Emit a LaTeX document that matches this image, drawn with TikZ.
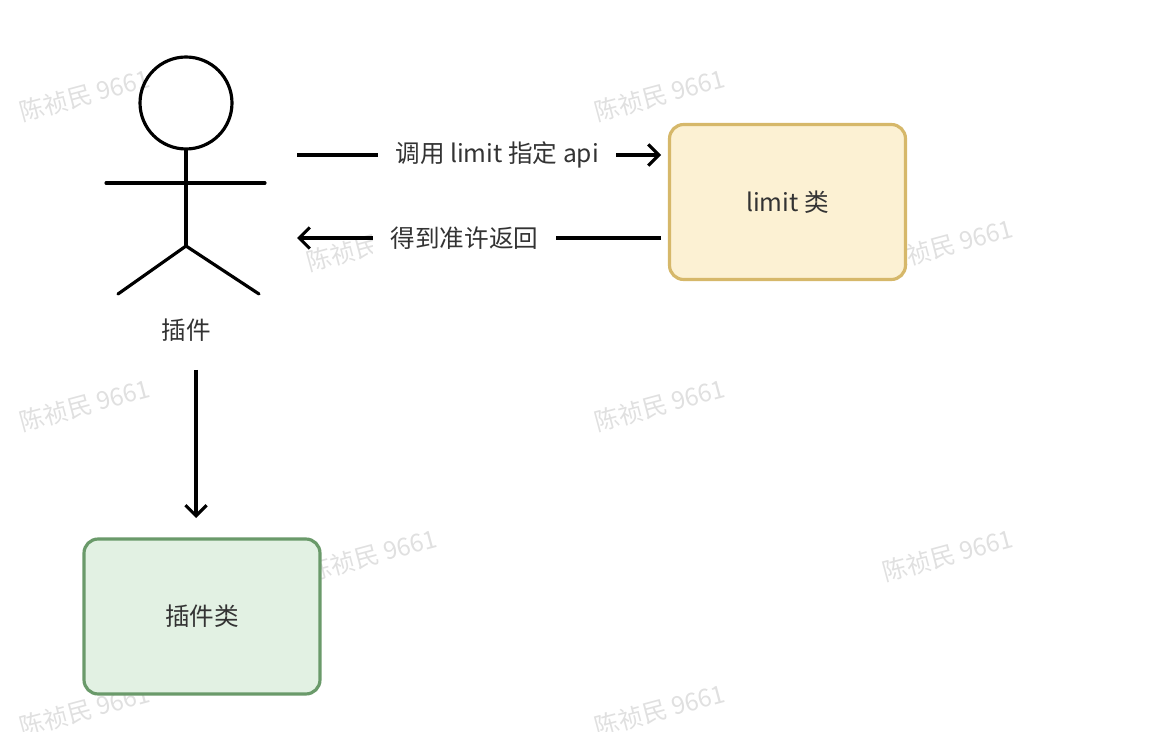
\documentclass[tikz,border=0pt]{standalone}
\usepackage{fontspec}
\newfontfamily\cjk{Noto Sans CJK SC}
\usetikzlibrary{arrows.meta, positioning}
\definecolor{txt}{HTML}{333333}
\definecolor{greenfill}{HTML}{E2F1E3}
\definecolor{greendraw}{HTML}{6A9A6A}
\definecolor{yellowfill}{HTML}{FCF1D3}
\definecolor{yellowdraw}{HTML}{D6B86A}
\tikzset{
	classbox/.style = {rectangle, rounded corners=8pt, line width=1.8pt,
		minimum width=4.72cm, minimum height=3.1cm, font=\cjk\fontsize{14}{16}\selectfont, text=txt},
	stick/.style    = {line width=1.8pt, line cap=round},
	msg/.style      = {line width=1.8pt, -{Straight Barb[length=6pt,width=12pt,line width=1.8pt]}},
	msglabel/.style = {fill=white, inner xsep=10pt, font=\cjk\fontsize{14}{16}\selectfont, text=txt},
	mark9661/.style = {rotate=15, text=black!12, font=\cjk\fontsize{14}{16}\selectfont},
}
\begin{document}
\begin{tikzpicture}[x=0.02cm, y=-0.02cm]
\useasboundingbox (0,0) rectangle (1158,732);
% watermarks
\foreach \wx/\wy in {85/95, 660/95, 372/245, 948/245, 85/405, 660/405, 372/555, 948/555, 85/710, 660/710}
	\node [mark9661] at (\wx,\wy) {陈祯民 9661};
% stick figure
\node [circle, draw, line width=1.8pt, minimum size=1.84cm, inner sep=0pt] (head) at (186,103) {};
\coordinate (hip) at (186,246);
\draw [stick] (head.south) -- (hip);
\draw [stick] (106,183) -- (265,183);
\draw [stick] (118,294) -- (hip) -- (259,294);
\node [font=\cjk\fontsize{14}{16}\selectfont, text=txt] (plugin) at (186,330) {插件};
% boxes
\node [classbox, draw=yellowdraw, fill=yellowfill] (limit) at (787.5,202) {limit 类};
\node [classbox, draw=greendraw, fill=greenfill] (pluginclass) at (202,616.5) {插件类};
% messages
\coordinate (callstart) at (297,155);
\coordinate (callend) at (661,155);
\coordinate (retstart) at (661,238);
\coordinate (retend) at (297,238);
\coordinate (downstart) at (196,370);
\coordinate (downend) at (196,518);
\draw [msg] (callstart) -- (callend) node [msglabel, pos=0.55] {调用 limit 指定 api};
\draw [msg] (retstart) -- (retend) node [msglabel, pos=0.54] {得到准许返回};
\draw [msg] (downstart) -- (downend);
\end{tikzpicture}
\end{document}
